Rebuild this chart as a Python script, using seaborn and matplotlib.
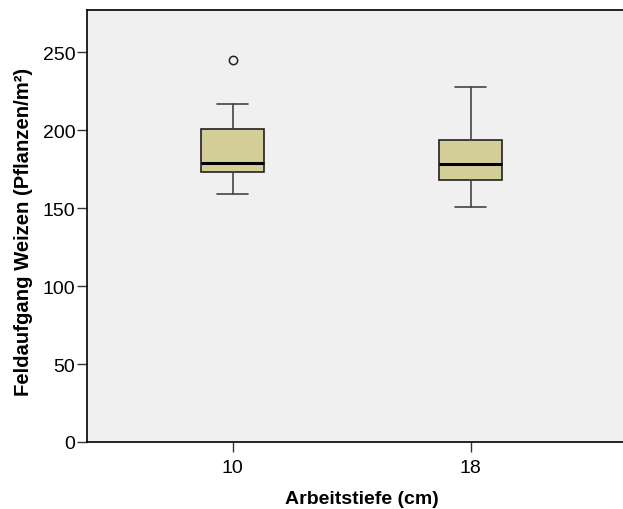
import matplotlib
matplotlib.use("Agg")
import matplotlib.pyplot as plt
import seaborn as sns

# Data (summary statistics per group)
categories = ["10", "18"]
q1 = [172.9, 168.2]
medians = [178.7, 178.2]
q3 = [200.8, 193.9]
whisker_low = [159.0, 150.6]
whisker_high = [216.6, 227.5]
outliers = [[245.0], []]

sns.set_theme(style="ticks")
plt.rcParams["font.family"] = ["Liberation Sans", "DejaVu Sans"]
plt.rcParams["text.color"] = "black"
plt.rcParams["axes.labelcolor"] = "black"

fig = plt.figure(figsize=(6.23, 5.10), dpi=100)
ax = fig.add_axes([87 / 623, 67 / 510, (636 - 87) / 623, 432 / 510])
ax.set_facecolor("#F0F0F0")

stats = []
for i, c in enumerate(categories):
    stats.append(dict(label=c, q1=q1[i], med=medians[i], q3=q3[i],
                      whislo=whisker_low[i], whishi=whisker_high[i],
                      fliers=outliers[i]))

ax.bxp(stats, positions=range(len(categories)), widths=0.263,
       patch_artist=True, showfliers=True,
       boxprops=dict(facecolor="#D3CE97", edgecolor="#222222", linewidth=1.2),
       medianprops=dict(color="black", linewidth=2.2),
       whiskerprops=dict(color="#444444", linewidth=1.2),
       capprops=dict(color="#444444", linewidth=1.2),
       flierprops=dict(marker="o", markerfacecolor="none",
                       markeredgecolor="#222222", markersize=6,
                       markeredgewidth=1.1))

ax.set_xlim(-0.612, 1.695)
ax.set_ylim(0, 277)
ax.set_yticks([0, 50, 100, 150, 200, 250])
ax.set_xticks(range(len(categories)))
ax.set_xticklabels(categories)
ax.tick_params(axis="both", labelsize=14, length=7.5, width=1, color="#333333",
               labelcolor="black", direction="out")
ax.tick_params(axis="x", pad=5)
ax.tick_params(axis="y", pad=1)
for s in ax.spines.values():
    s.set_color("black")
    s.set_linewidth(1.2)
ax.grid(False)

ax.set_xlabel("Arbeitstiefe (cm)", fontsize=14, fontweight="bold", labelpad=10)
ax.set_ylabel("Feldaufgang Weizen (Pflanzen/m²)", fontsize=14.6,
              fontweight="bold")
ax.yaxis.set_label_coords(-0.099, 0.488)

fig.savefig("out.png", dpi=100)
